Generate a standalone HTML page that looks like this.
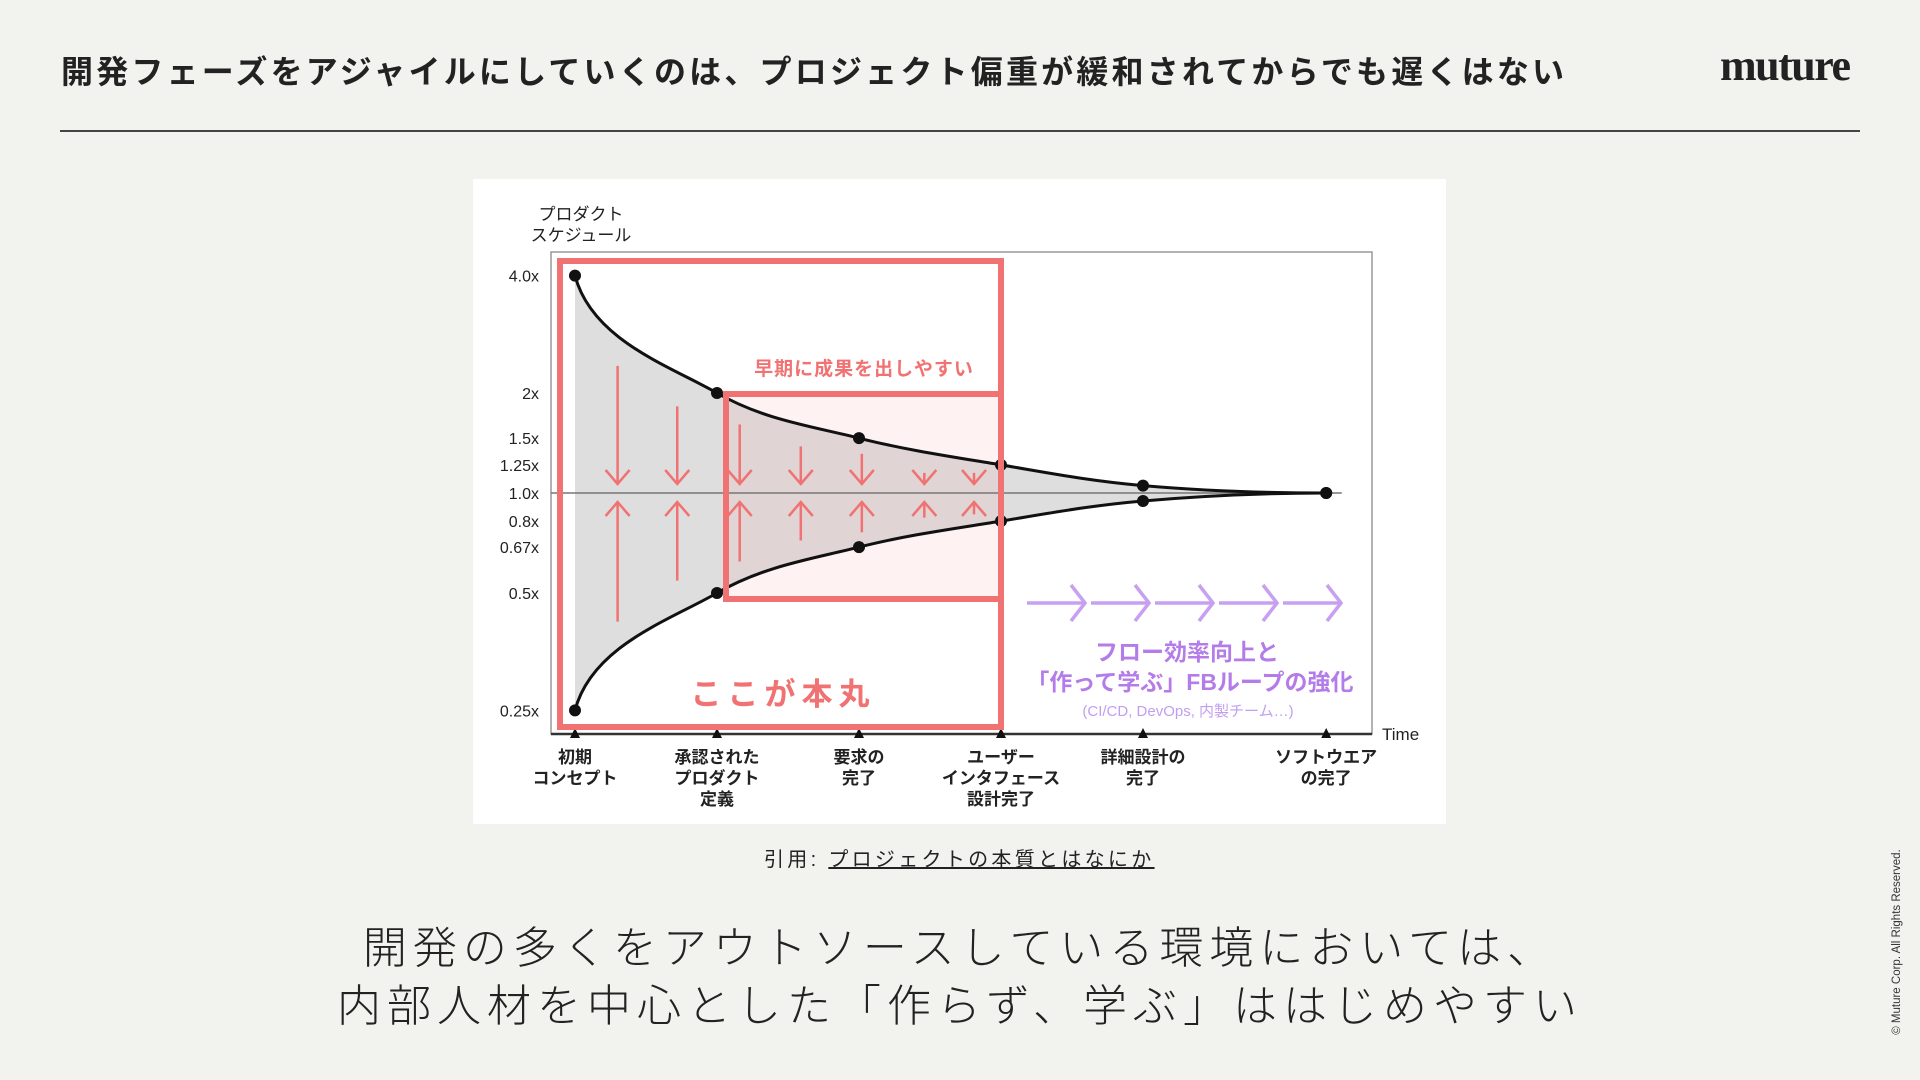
<!DOCTYPE html>
<html><head><meta charset="utf-8">
<style>
html,body{margin:0;padding:0;}
body{width:1920px;height:1080px;background:#f2f2ee;position:relative;overflow:hidden;font-family:"Liberation Sans","Noto Sans CJK JP",sans-serif;color:#222;}
.abs{position:absolute;}
</style></head>
<body>
<div class="abs" style="left:61px;top:47px;font-size:32px;font-weight:bold;white-space:nowrap;letter-spacing:3.2px;">開発フェーズをアジャイルにしていくのは、プロジェクト偏重が緩和されてからでも遅くはない</div>
<div class="abs" style="left:1720px;top:40px;font-size:44px;font-weight:bold;font-family:'Liberation Serif',serif;letter-spacing:-1.5px;">muture</div>
<div class="abs" style="left:60px;top:130px;width:1800px;height:1.5px;background:#444;"></div>

<div class="abs" style="left:473px;top:179px;width:973px;height:645px;background:#fff;"></div>
<svg id="chart" class="abs" style="left:0;top:0" width="1920" height="1080" xmlns="http://www.w3.org/2000/svg" font-family="Liberation Sans, Noto Sans CJK JP, sans-serif"></svg>

<div class="abs" style="left:764px;top:843px;font-size:20px;letter-spacing:3.3px;white-space:nowrap;">引用: <span style="text-decoration:underline;">プロジェクトの本質とはなにか</span></div>
<div class="abs" style="left:0;width:1920px;top:920px;text-align:center;font-size:44px;line-height:58px;letter-spacing:6px;font-weight:300;">開発の多くをアウトソースしている環境においては、<br>内部人材を中心とした「作らず、学ぶ」ははじめやすい</div>
<div class="abs" style="left:1897px;top:942px;transform:translate(-50%,-50%) rotate(-90deg);font-size:11.5px;white-space:nowrap;color:#333;">© Muture Corp. All Rights Reserved.</div>

<script>
const categories = [["初期","コンセプト"],["承認された","プロダクト","定義"],["要求の","完了"],["ユーザー","インタフェース","設計完了"],["詳細設計の","完了"],["ソフトウエア","の完了"]];
const timeValues = [0,1,2,3,4,5.29];
const upperValues = [4.0,2.0,1.5,1.25,1.07,1.0];
const lowerValues = [0.25,0.5,0.67,0.8,0.93,1.0];
const yTickValues = [4.0,2,1.5,1.25,1.0,0.8,0.67,0.5,0.25];
const yTickLabels = ["4.0x","2x","1.5x","1.25x","1.0x","0.8x","0.67x","0.5x","0.25x"];
const downArrowTops = [2.36,1.84,1.64,1.42,1.35,1.18,1.18];
const upArrowBottoms = [0.42,0.54,0.61,0.70,0.74,0.82,0.84];
const arrowTimes = [0.3,0.72,1.16,1.59,2.02,2.46,2.81];

const svg = document.getElementById('chart');
const NS = 'http://www.w3.org/2000/svg';
const X = t => 575 + t*142;
const Y = v => { const L = Math.log2(v); return 493 - 100*Math.sign(L)*Math.pow(Math.abs(L),1.12); };
function mk(tag, attrs, parent){const e=document.createElementNS(NS,tag);for(const k in attrs)e.setAttribute(k,attrs[k]);(parent||svg).appendChild(e);return e;}
function segs(pts){let d='';const n=pts.length;for(let i=0;i<n-1;i++){const p0=pts[Math.max(0,i-1)],p1=pts[i],p2=pts[i+1],p3=pts[Math.min(n-1,i+2)];const dx=p2[0]-p1[0],dy=p2[1]-p1[1];let c1,c2;
if(i===0){c1=[p1[0]+dx*0.12,p1[1]+dy*0.55];}else{c1=[p1[0]+(p2[0]-p0[0])/6,p1[1]+(p2[1]-p0[1])/6];}
if(i===n-2){c2=[p2[0]-dx*0.4,p2[1]];}else{c2=[p2[0]-(p3[0]-p1[0])/6,p2[1]-(p3[1]-p1[1])/6];}
d+=' C'+c1[0]+','+c1[1]+' '+c2[0]+','+c2[1]+' '+p2[0]+','+p2[1];}return d;}
function segsRev(pts){let d='';const n=pts.length;for(let i=n-1;i>0;i--){const p0=pts[Math.max(0,i-2)],p1=pts[i-1],p2=pts[i],p3=pts[Math.min(n-1,i+1)];const dx=p2[0]-p1[0],dy=p2[1]-p1[1];let c1,c2;
if(i-1===0){c1=[p1[0]+dx*0.12,p1[1]+dy*0.55];}else{c1=[p1[0]+(p2[0]-p0[0])/6,p1[1]+(p2[1]-p0[1])/6];}
if(i===n-1){c2=[p2[0]-dx*0.4,p2[1]];}else{c2=[p2[0]-(p3[0]-p1[0])/6,p2[1]-(p3[1]-p1[1])/6];}
d+=' C'+c2[0]+','+c2[1]+' '+c1[0]+','+c1[1]+' '+p1[0]+','+p1[1];}return d;}

const up = timeValues.map((t,i)=>[X(t),Y(upperValues[i])]);
const lo = timeValues.map((t,i)=>[X(t),Y(lowerValues[i])]);

let fr = mk('rect',{x:551,y:252,width:821,height:482,fill:'none',stroke:'#999','stroke-width':1.5});


let xa = mk('line',{x1:551,y1:734,x2:1372,y2:734,stroke:'#333','stroke-width':2.5});



const last = lo[lo.length-1];
let fillD = 'M'+up[0][0]+','+up[0][1]+segs(up)+' L'+last[0]+','+last[1]+segsRev(lo)+' Z';
let band = mk('path',{d:fillD,fill:'#dedede'});



let pinkFill = mk('rect',{x:723,y:391,width:281,height:208,fill:'rgba(240,112,112,0.09)'});



let base = mk('line',{x1:551,y1:Y(1),x2:X(5.4),y2:Y(1),stroke:'#777','stroke-width':1.5});



let uc = mk('path',{d:'M'+up[0][0]+','+up[0][1]+segs(up),fill:'none',stroke:'#111','stroke-width':3});


let lc = mk('path',{d:'M'+lo[0][0]+','+lo[0][1]+segs(lo),fill:'none',stroke:'#111','stroke-width':3});



up.forEach((p,i)=>{const c=mk('circle',{cx:p[0],cy:p[1],r:6,fill:'#111'});

});
lo.forEach((p,i)=>{const c=mk('circle',{cx:p[0],cy:p[1],r:6,fill:'#111'});

});

yTickValues.forEach((v,i)=>{const t=mk('text',{x:539,y:Y(v)+6,'text-anchor':'end','font-size':16,fill:'#222'});t.textContent=yTickLabels[i];

});
let yt1 = mk('text',{x:581,y:220,'text-anchor':'middle','font-size':17,fill:'#222'});yt1.textContent='プロダクト';


let yt2 = mk('text',{x:581,y:241,'text-anchor':'middle','font-size':17,fill:'#222'});yt2.textContent='スケジュール';



categories.forEach((lines,i)=>{const x=X(timeValues[i]);
const tri=mk('path',{d:`M${x-5},738 L${x+5},738 L${x},728 Z`,fill:'#111'});


lines.forEach((s,j)=>{const t=mk('text',{x:x,y:763+j*21,'text-anchor':'middle','font-size':17,'font-weight':'bold',fill:'#222'});t.textContent=s;

});});
let tm = mk('text',{x:1382,y:740,'font-size':17,fill:'#222'});tm.textContent='Time';



const RED='#f07272';
arrowTimes.forEach((t,i)=>{const x=X(t);
const y1=Y(downArrowTops[i]), y2=Y(1)-9;
const g=mk('g',{stroke:RED,'stroke-width':2.5,fill:'none'});


mk('line',{x1:x,y1:y1,x2:x,y2:y2},g);mk('path',{d:`M${x-12},${y2-14} L${x},${y2} L${x+12},${y2-14}`},g);
const b=Y(upArrowBottoms[i]), u=Y(1)+9;
const g2=mk('g',{stroke:RED,'stroke-width':2.5,fill:'none'});


mk('line',{x1:x,y1:b,x2:x,y2:u},g2);mk('path',{d:`M${x-12},${u+14} L${x},${u} L${x+12},${u+14}`},g2);});

let bb = mk('rect',{x:560,y:261,width:441,height:466,fill:'none',stroke:RED,'stroke-width':6});


let ib = mk('rect',{x:726,y:394,width:275,height:205,fill:'none',stroke:RED,'stroke-width':6});


let et = mk('text',{x:864,y:375,'text-anchor':'middle','font-size':19,'font-weight':'bold',fill:RED,'letter-spacing':1});et.textContent='早期に成果を出しやすい';


let ct = mk('text',{x:783,y:705,'text-anchor':'middle','font-size':31,'font-weight':'bold',fill:RED,'letter-spacing':6});ct.textContent='ここが本丸';



const PUR='#c7a0f2';
for(let i=0;i<5;i++){const x0=1027+i*64, x1=x0+58;
const g=mk('g',{stroke:PUR,'stroke-width':3.5,fill:'none'});


mk('line',{x1:x0,y1:603,x2:x1,y2:603},g);mk('path',{d:`M${x1-14},585 L${x1},603 L${x1-14},621`},g);}
let p1 = mk('text',{x:1187,y:660,'text-anchor':'middle','font-size':23,'font-weight':'bold',fill:'#b47ce9'});p1.textContent='フロー効率向上と';


let p2 = mk('text',{x:1190,y:690,'text-anchor':'middle','font-size':23,'font-weight':'bold',fill:'#b47ce9'});p2.textContent='「作って学ぶ」FBループの強化';


let p3 = mk('text',{x:1188,y:716,'text-anchor':'middle','font-size':15,fill:'#c29ef0'});p3.textContent='(CI/CD, DevOps, 内製チーム…)';


</script>
</body></html>
